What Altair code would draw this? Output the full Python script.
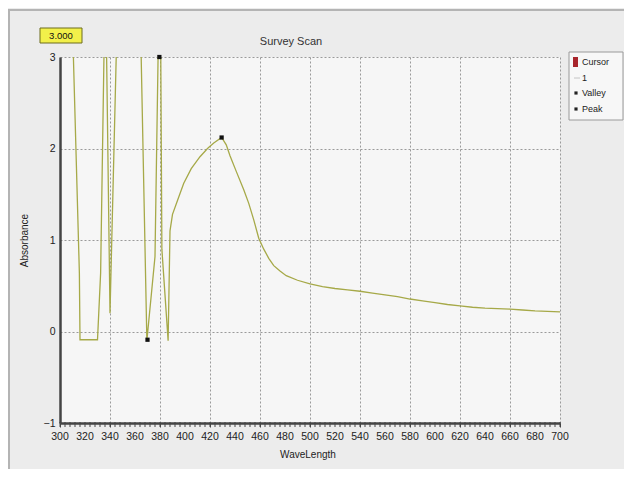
import altair as alt
import pandas as pd

# ---- data ----
wavelength = [300, 309.5, 315.5, 316, 330, 332.5, 335.5, 337, 340, 345.5, 364.5, 369.5,
              376, 378.8, 380.5, 381.5, 386.5, 388, 390, 395, 399, 405, 412, 418, 423,
              429.3, 433, 436, 441, 447, 451, 455, 459, 463, 467, 471, 476, 481, 490,
              500, 510, 520, 530, 540, 550, 560, 570, 580, 590, 600, 610, 620, 630,
              640, 650, 660, 670, 680, 690, 700]
absorbance = [3.6, 3.6, 0.64, -0.09, -0.09, 0.64, 3.3, 3.3, 0.2, 3.3, 3.3, -0.1,
              0.82, 3.3, 3.3, 0.9, -0.1, 1.1, 1.28, 1.47, 1.62, 1.78, 1.91, 2.0, 2.06,
              2.12, 2.04, 1.92, 1.75, 1.55, 1.4, 1.22, 1.02, 0.9, 0.8, 0.72, 0.66, 0.61, 0.56,
              0.52, 0.49, 0.47, 0.455, 0.44, 0.42, 0.40, 0.38, 0.355, 0.335, 0.315, 0.295, 0.28, 0.265,
              0.255, 0.25, 0.245, 0.235, 0.225, 0.22, 0.215]

marker_type = ["Valley", "Peak", "Peak"]
marker_wl = [370.0, 379.5, 429.3]
marker_abs = [-0.09, 3.0, 2.12]

legend_labels = ["Cursor", "1", "Valley", "Peak"]
cursor_text = "3.000"
chart_title = "Survey Scan"
x_title = "WaveLength"

x_major = list(range(300, 701, 20))
x_minor = list(range(300, 701, 4))
y_ticks = [-1, 0, 1, 2, 3]

FONT = "Liberation Sans"
LINE_COLOR = "#a6a948"

df = pd.DataFrame({"wl": wavelength, "A": absorbance})
mk = pd.DataFrame({"wl": marker_wl, "A": marker_abs, "type": marker_type})
minor = pd.DataFrame({"wl": x_minor})
major = pd.DataFrame({"wl": x_major, "lab": [str(v) for v in x_major]})
one = pd.DataFrame({"k": [0]})

x_scale = alt.Scale(domain=[300, 700], nice=False, zero=False)
y_scale = alt.Scale(domain=[-1, 3], nice=False, zero=False)

x_axis = alt.Axis(
    values=x_major, labels=False, title=None,
    domainColor="#444", domainWidth=2.5,
    tickColor="#444", tickSize=4,
    grid=True, gridColor="#9a9a9a", gridDash=[2, 2], gridWidth=1,
)
y_axis = alt.Axis(
    values=y_ticks, format="d",
    title="Absorbance",
    titleFont=FONT, titleFontSize=10, titleFontWeight="normal", titleColor="#222",
    titlePadding=14,
    labelFont=FONT, labelFontSize=10.5, labelColor="#222", labelPadding=5,
    domainColor="#444", domainWidth=2.5, ticks=False,
    grid=True, gridColor="#9a9a9a", gridDash=[2, 2], gridWidth=1,
)

panel = alt.Chart(one).mark_rect(fillOpacity=0, stroke="#b4b4b4", strokeWidth=2).encode(
    x=alt.value(-51), x2=alt.value(575), y=alt.value(-47), y2=alt.value(440)
)

line = alt.Chart(df).mark_line(color=LINE_COLOR, strokeWidth=1.3, clip=True).encode(
    x=alt.X("wl:Q", scale=x_scale, axis=x_axis),
    y=alt.Y("A:Q", scale=y_scale, axis=y_axis),
    order="wl:Q",
)

minor_ticks = alt.Chart(minor).mark_rule(color="#444", strokeWidth=1).encode(
    x=alt.X("wl:Q", scale=x_scale),
    y=alt.value(365), y2=alt.value(370),
)

x_labels = alt.Chart(major).mark_text(font=FONT, fontSize=10.5, color="#222",
                                      align="center", baseline="middle").encode(
    x=alt.X("wl:Q", scale=x_scale),
    y=alt.value(380),
    text="lab:N",
)

x_title_text = alt.Chart(one).mark_text(font=FONT, fontSize=10, color="#222", align="center",
                                        baseline="middle").encode(
    x=alt.value(248), y=alt.value(398), text=alt.value(x_title)
)

points = alt.Chart(mk).mark_square(color="#111", size=18, opacity=1).encode(
    x=alt.X("wl:Q", scale=x_scale),
    y=alt.Y("A:Q", scale=y_scale),
)

title_text = alt.Chart(one).mark_text(font=FONT, fontSize=11, color="#333", align="center",
                                      baseline="middle").encode(
    x=alt.value(231), y=alt.value(-15), text=alt.value(chart_title)
)

# cursor value box
cbox = alt.Chart(one).mark_rect(fill="#f2f04a", stroke="#6d6d1e", strokeWidth=1).encode(
    x=alt.value(-20), x2=alt.value(22), y=alt.value(-29), y2=alt.value(-14)
)
ctext = alt.Chart(one).mark_text(font=FONT, fontSize=9.5, color="#111", align="center",
                                 baseline="middle").encode(
    x=alt.value(1), y=alt.value(-21.5), text=alt.value(cursor_text)
)

# legend box
lbox = alt.Chart(one).mark_rect(fill="#f7f7f7", stroke="#9a9a9a", strokeWidth=1).encode(
    x=alt.value(509), x2=alt.value(563), y=alt.value(-5), y2=alt.value(63)
)
l_cursor = alt.Chart(one).mark_rect(fill="#a8252c").encode(
    x=alt.value(513), x2=alt.value(518), y=alt.value(0), y2=alt.value(10)
)
l_line = alt.Chart(one).mark_rule(color="#c4c4c4", strokeWidth=1).encode(
    x=alt.value(514), x2=alt.value(520), y=alt.value(21)
)
l_valley = alt.Chart(one).mark_square(color="#222", size=10, opacity=1).encode(
    x=alt.value(516), y=alt.value(36)
)
l_peak = alt.Chart(one).mark_square(color="#222", size=10, opacity=1).encode(
    x=alt.value(516), y=alt.value(52)
)
ltexts = [
    alt.Chart(one).mark_text(font=FONT, fontSize=9, color="#222", align="left",
                             baseline="middle").encode(
        x=alt.value(522), y=alt.value(yy), text=alt.value(lab))
    for lab, yy in zip(legend_labels, [5, 21, 36, 52])
]

chart = alt.layer(
    panel, line, minor_ticks, x_labels, x_title_text, points, title_text, cbox, ctext,
    lbox, l_cursor, l_line, l_valley, l_peak, *ltexts
).properties(
    width=500, height=366,
    autosize=alt.AutoSizeParams(type="none"),
    padding={"left": 52, "top": 49, "right": 64, "bottom": 46},
).configure(
    background="#ececec",
).configure_view(
    fill="#f6f6f6", stroke=None,
)

chart.save("out.html", embed_options={"renderer": "svg", "actions": False})
